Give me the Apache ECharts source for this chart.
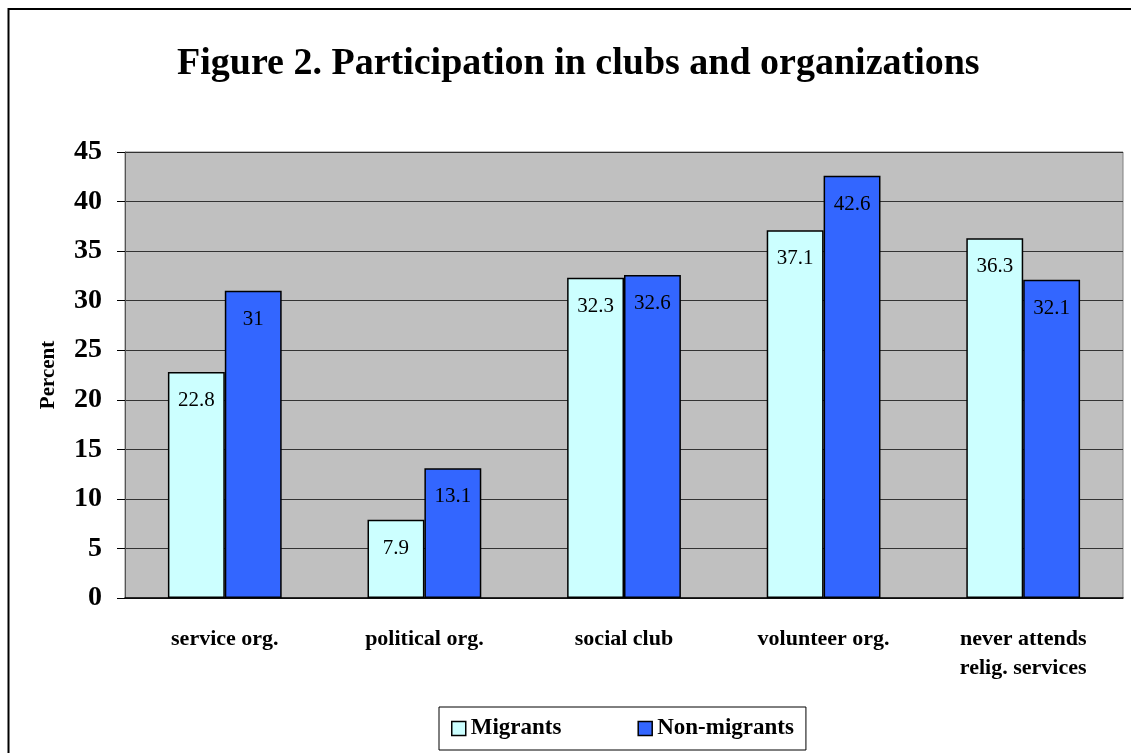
<!DOCTYPE html>
<html><head><meta charset="utf-8">
<script src="https://cdn.jsdelivr.net/npm/echarts@6/dist/echarts.min.js"></script>
<style>html,body{margin:0;padding:0;background:#fff}#c{width:1131px;height:753px}</style>
</head><body><div id="c"></div>
<script>
const categories = ['service org.', 'political org.', 'social club', 'volunteer org.', 'never attends\nrelig. services'];
const migrants = [22.8, 7.9, 32.3, 37.1, 36.3];
const nonMigrants = [31, 13.1, 32.6, 42.6, 32.1];
const seriesNames = ['Migrants', 'Non-migrants'];
const F = '"Liberation Serif","Times New Roman",serif';
const chart = echarts.init(document.getElementById('c'));
const lbl = {show: true, position: 'insideTop', distance: 18, fontFamily: F, fontSize: 21, color: '#000'};
chart.setOption({
  backgroundColor: '#fff',
  animation: false,
  graphic: [{type: 'rect', shape: {x: 8.5, y: 9, width: 1140, height: 800}, style: {fill: 'none', stroke: '#000', lineWidth: 2}, z: -1}],
  title: {text: 'Figure 2. Participation in clubs and organizations', left: 172, top: 40,
    textStyle: {fontFamily: F, fontSize: 38, fontWeight: 'bold', color: '#000'}},
  legend: {data: seriesNames, left: 439, top: 707, itemGap: 76, itemWidth: 14, itemHeight: 14, icon: 'rect',
    borderColor: '#000', borderWidth: 1, padding: [10, 12, 10, 12], backgroundColor: '#fff',
    itemStyle: {borderColor: '#000', borderWidth: 1.5},
    textStyle: {fontFamily: F, fontSize: 23, fontWeight: 'bold', color: '#000'}},
  grid: {left: 125, top: 152, right: 8, bottom: 155, show: true, backgroundColor: '#c0c0c0', borderColor: '#808080', borderWidth: 1},
  xAxis: {type: 'category', data: categories,
    axisLine: {lineStyle: {color: '#000', width: 1.5}},
    axisTick: {length: 8, lineStyle: {color: '#555'}},
    axisLabel: {fontFamily: F, fontSize: 22, fontWeight: 'bold', color: '#000', margin: 27, lineHeight: 29}},
  yAxis: {type: 'value', min: 0, max: 45, interval: 5, name: 'Percent', nameLocation: 'middle', nameGap: 66,
    nameTextStyle: {fontFamily: F, fontSize: 21, fontWeight: 'bold', color: '#000'},
    axisLine: {show: true, lineStyle: {color: '#555'}},
    axisTick: {show: true, length: 8, lineStyle: {color: '#000'}},
    axisLabel: {fontFamily: F, fontSize: 28, fontWeight: 'bold', color: '#000', margin: 23},
    splitLine: {lineStyle: {color: '#333'}}},
  series: [
    {name: seriesNames[0], type: 'bar', data: migrants, barGap: '0%', barCategoryGap: '43%',
      itemStyle: {color: '#ccffff', borderColor: '#000', borderWidth: 1.5}, label: lbl},
    {name: seriesNames[1], type: 'bar', data: nonMigrants,
      itemStyle: {color: '#3366ff', borderColor: '#000', borderWidth: 1.5}, label: lbl}
  ]
});
</script></body></html>
